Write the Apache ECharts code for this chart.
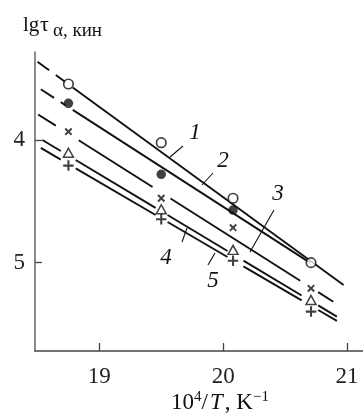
<!DOCTYPE html>
<html><head><meta charset="utf-8">
<script src="https://cdn.jsdelivr.net/npm/echarts@6/dist/echarts.min.js"></script>
<style>html,body{margin:0;padding:0;background:#fff}#c{width:363px;height:413px}</style>
</head><body><div id="c"></div>
<script>
// ---- data (x = 10^4/T, y = lg tau) ----
const xTicks = [19, 20, 21];
const yTicks = [4, 5];
const xCols = [18.75, 19.50, 20.08, 20.71];
const s1 = [3.544, 4.022, 4.475, 5.000];   // 1: open circles
const s2 = [3.701, 4.280, 4.571];          // 2: filled circles
const s3 = [3.932, 4.475, 4.715, 5.209];   // 3: crosses
const s4 = [4.104, 4.565, 4.896, 5.304];   // 4: triangles
const s5 = [4.209, 4.646, 4.984, 5.399];   // 5: plus
// fitted lines: [xStart, yStart, xEnd, yEnd]
const fit1 = [18.500, 3.362, 20.973, 5.182];
const fit2 = [18.527, 3.587, 20.704, 5.002];
const fit3 = [18.505, 3.792, 20.890, 5.318];
const fit4 = [18.540, 4.000, 20.919, 5.440];
const fit5 = [18.527, 4.065, 20.919, 5.475];
// breaks of each line (x ranges)
const gaps1 = [[18.594, 18.648], [18.728, 18.785]];
const gaps2 = [[18.634, 18.688], [18.728, 18.785]];
const gaps3 = [[18.648, 18.833], [19.430, 19.575], [20.623, 20.768]];
const gaps4 = [[18.688, 18.809], [19.454, 19.551], [20.035, 20.164], [20.634, 20.768]];
const gaps5 = [[18.688, 18.809], [19.454, 19.551], [20.035, 20.164], [20.634, 20.768]];

const SERIF = '"Liberation Serif","DejaVu Serif",serif';
const LINE = {color: '#111', width: 1.9};

function segments(fit, gaps) {
  const [x0, y0, x1, y1] = fit;
  const f = x => y0 + (y1 - y0) * (x - x0) / (x1 - x0);
  const out = [];
  let start = x0;
  gaps.forEach(g => { out.push([[start, f(start)], [g[0], f(g[0])]]); start = g[1]; });
  out.push([[start, f(start)], [x1, f(x1)]]);
  return out;
}
const lineSeries = [];
[[fit1, gaps1], [fit2, gaps2], [fit3, gaps3], [fit4, gaps4], [fit5, gaps5]].forEach(([fit, gaps]) => {
  segments(fit, gaps).forEach(seg => lineSeries.push({
    type: 'line', data: seg, symbol: 'none', lineStyle: LINE, silent: true, z: 2, animation: false
  }));
});
const pairs = ys => ys.map((y, i) => [xCols[i], y]);
const PLUS = 'path://M4,0H6V4H10V6H6V10H4V6H0V4H4Z';
const CROSS = 'path://M3.9,0H6.1V3.9H10V6.1H6.1V10H3.9V6.1H0V3.9H3.9Z';
const markerSeries = [
  {data: pairs(s1), symbol: 'circle', symbolSize: 9.5, itemStyle: {color: '#fff', borderColor: '#111', borderWidth: 1.7}},
  {data: pairs(s2), symbol: 'circle', symbolSize: 9.5, itemStyle: {color: '#111'}},
  {data: pairs(s3), symbol: CROSS, symbolSize: 9, symbolRotate: 45, itemStyle: {color: '#111'}},
  {data: pairs(s4), symbol: 'triangle', symbolSize: [10, 9], itemStyle: {color: '#fff', borderColor: '#111', borderWidth: 1.5}},
  {data: pairs(s5), symbol: PLUS, symbolSize: 10.5, itemStyle: {color: '#111'}}
].map(s => Object.assign({type: 'scatter', z: 5, animation: false}, s));

const chart = echarts.init(document.getElementById('c'));
const labelStyle = {fontFamily: SERIF, fontSize: 23, fontStyle: 'italic', fill: '#111'};
const curveLabels = [['1', 195, 133], ['2', 223, 161], ['3', 278, 194], ['4', 166, 258], ['5', 213, 281]];
const leaders = [[170, 157, 183, 146], [202, 185, 213, 173], [250, 252, 274, 210], [182, 242, 187, 228], [208, 265, 215, 253]];
const graphics = [];
curveLabels.forEach(([t, x, y]) => graphics.push({type: 'text', x, y, style: Object.assign({text: t, align: 'center', verticalAlign: 'middle'}, labelStyle)}));
leaders.forEach(([x1, y1, x2, y2]) => graphics.push({type: 'line', shape: {x1, y1, x2, y2}, style: {stroke: '#111', lineWidth: 1.1}}));
graphics.push({type: 'text', x: 23, y: 36, style: {text: 'lg', fontFamily: SERIF, fontSize: 21, fill: '#111', verticalAlign: 'bottom'}});
graphics.push({type: 'text', x: 40, y: 36, style: {text: 'τ', fontFamily: SERIF, fontSize: 22, fill: '#111', verticalAlign: 'bottom'}});
graphics.push({type: 'text', x: 53, y: 41, style: {text: 'α, кин', fontFamily: SERIF, fontSize: 19, fill: '#111', verticalAlign: 'bottom'}});
graphics.push({type: 'text', x: 220, y: 414, style: {
  text: '{m|10}{s|4}{m|/}{i|T}{m|, K}{s|−1}', align: 'center', verticalAlign: 'bottom',
  rich: {
    m: {fontFamily: SERIF, fontSize: 23, lineHeight: 24, verticalAlign: 'bottom', fill: '#111'},
    i: {fontFamily: SERIF, fontSize: 23, fontStyle: 'italic', lineHeight: 24, verticalAlign: 'bottom', fill: '#111', padding: [0, 2, 0, 2]},
    s: {fontFamily: SERIF, fontSize: 15, lineHeight: 15, verticalAlign: 'top', fill: '#111'}
  }
}});

chart.setOption({
  animation: false,
  grid: {left: 35, right: 0, top: 52, bottom: 62, outerBoundsMode: 'none', containLabel: false},
  xAxis: {
    type: 'value', min: 18.48, max: 21.13,
    axisLine: {show: true, lineStyle: {color: '#444', width: 1.5}},
    axisTick: {show: true, inside: true, length: 8, customValues: xTicks, lineStyle: {color: '#444', width: 1.3}},
    axisLabel: {customValues: xTicks, fontFamily: SERIF, fontSize: 23, color: '#222', margin: 14},
    splitLine: {show: false}
  },
  yAxis: {
    type: 'value', inverse: true, min: 3.283, max: 5.72,
    axisLine: {show: true, lineStyle: {color: '#666', width: 1.5}},
    axisTick: {show: true, inside: true, length: 7, customValues: yTicks, lineStyle: {color: '#444', width: 1.3}},
    axisLabel: {customValues: yTicks, fontFamily: SERIF, fontSize: 23, color: '#222', margin: 10},
    splitLine: {show: false}
  },
  series: lineSeries.concat(markerSeries),
  graphic: graphics
});
</script></body></html>
